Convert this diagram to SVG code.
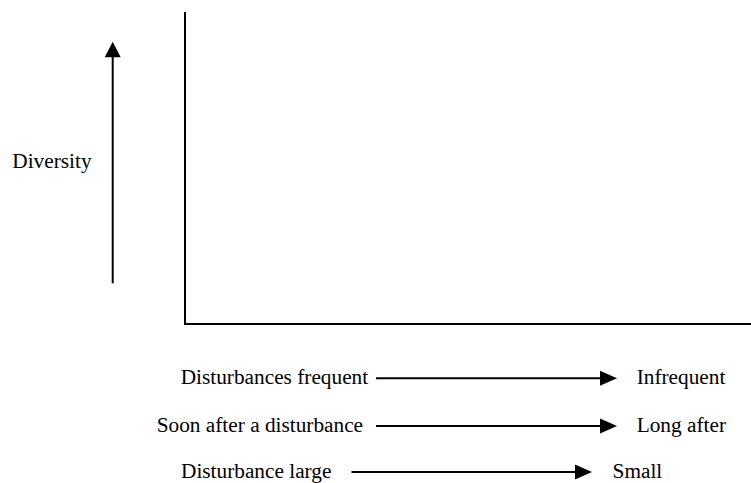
<svg xmlns="http://www.w3.org/2000/svg" width="751" height="483" viewBox="0 0 751 483">
  <style>
    .t { font-family: "Liberation Serif", "Times New Roman", serif; font-size: 21.3px; fill: #000; }
    .ln { stroke: #000; stroke-width: 2; fill: none; }
    .hd { fill: #000; stroke: none; }
  </style>
  <rect x="0" y="0" width="751" height="483" fill="#fff"/>
  <g id="axes">
    <polyline class="ln" points="185,12 185,324 751,324"/>
  </g>
  <g id="diversity">
    <text class="t" x="12.3" y="168.3">Diversity</text>
  </g>
  <g id="row1-left"><text class="t" x="180.7" y="384">Disturbances frequent</text></g>
  <g id="row1-right"><text class="t" x="636.7" y="384">Infrequent</text></g>
  <g id="row2-left"><text class="t" x="156.7" y="431.7">Soon after a disturbance</text></g>
  <g id="row2-right"><text class="t" x="636.7" y="431.7">Long after</text></g>
  <g id="row3-left"><text class="t" x="181" y="477.5">Disturbance large</text></g>
  <g id="row3-right"><text class="t" x="612.6" y="477.5">Small</text></g>
  <g id="connectors">
    <line class="ln" x1="112.7" y1="283.3" x2="112.7" y2="56"/>
    <polygon class="hd" points="112.7,41.7 104.7,57.3 120.7,57.3"/>
    <line class="ln" x1="376" y1="378.3" x2="601" y2="378.3"/>
    <polygon class="hd" points="617,378.3 600,370.8 600,385.8"/>
    <line class="ln" x1="376" y1="426" x2="601" y2="426"/>
    <polygon class="hd" points="617,426 600,418.5 600,433.5"/>
    <line class="ln" x1="351.5" y1="472" x2="576" y2="472"/>
    <polygon class="hd" points="592,472 575,464.5 575,479.5"/>
  </g>
</svg>
